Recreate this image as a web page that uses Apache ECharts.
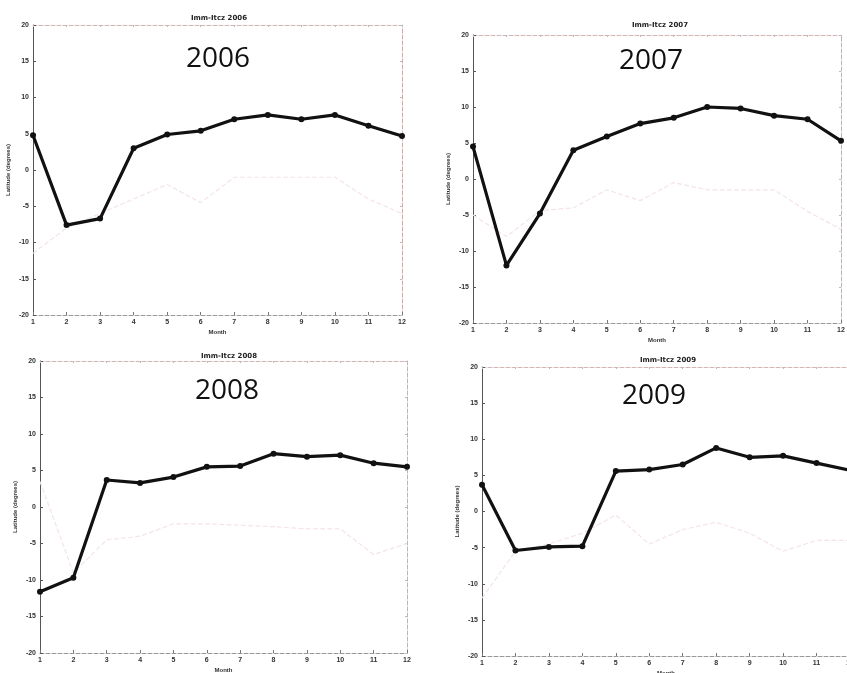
<!DOCTYPE html>
<html>
<head>
<meta charset="utf-8">
<script src="https://cdn.jsdelivr.net/npm/echarts@6/dist/echarts.min.js"></script>
<style>
  html, body { margin: 0; padding: 0; background: #fff; }
  #chart { width: 847px; height: 673px; }
</style>
</head>
<body>
<div id="chart"></div>
<script>
const months = ['1', '2', '3', '4', '5', '6', '7', '8', '9', '10', '11', '12']
const years = ['2006', '2007', '2008', '2009']
const smallTitles = ['Imm-Itcz 2006', 'Imm-Itcz 2007', 'Imm-Itcz 2008', 'Imm-Itcz 2009']

// bold black line, latitude in degrees
const lat2006 = [4.8, -7.6, -6.7, 3.0, 4.9, 5.4, 7.0, 7.6, 7.0, 7.6, 6.1, 4.7]
const lat2007 = [4.5, -12.0, -4.8, 4.0, 5.9, 7.7, 8.5, 10.0, 9.8, 8.8, 8.3, 5.3]
const lat2008 = [-11.6, -9.7, 3.7, 3.3, 4.1, 5.5, 5.6, 7.3, 6.9, 7.1, 6.0, 5.5]
const lat2009 = [3.7, -5.4, -4.9, -4.8, 5.6, 5.8, 6.5, 8.8, 7.5, 7.7, 6.7, 5.7]

// the faint lines that show through the scan
const faint2006 = [-11.5, -8, -6, -4, -2, -4.5, -1, -1, -1, -1, -4, -6]
const faint2007 = [-5, -8, -4.4, -4, -1.5, -3, -0.5, -1.5, -1.5, -1.5, -4.5, -7]
const faint2008 = [3.5, -9, -4.5, -4, -2.3, -2.3, -2.5, -2.7, -3, -3, -6.5, -5]
const faint2009 = [-12, -5.5, -4.5, -3, -0.5, -4.5, -2.5, -1.5, -3, -5.5, -4, -4]

const yTicks = { min: -20, max: 20, interval: 5 }

const mainData = [lat2006, lat2007, lat2008, lat2009]
const faintData = [faint2006, faint2007, faint2008, faint2009]

const grids = [
  { left: 33, right: 445, top: 25, bottom: 358 },
  { left: 473, right: 6, top: 35, bottom: 350 },
  { left: 40, right: 440, top: 361, bottom: 20 },
  { left: 482, right: -3, top: 367, bottom: 17 }
]

// big year labels and the tiny plot titles
const bigLabels = [
  { x: 213, y: 40 }, { x: 646, y: 42 }, { x: 222, y: 372 }, { x: 649, y: 377 }
]
const smallPos = [
  { x: 214, y: 10 }, { x: 655, y: 17 }, { x: 224, y: 348 }, { x: 663, y: 352 }
]

const chart = echarts.init(document.getElementById('chart'))

const titles = []
years.forEach((y, i) => {
  titles.push({
    text: smallTitles[i],
    left: smallPos[i].x, top: smallPos[i].y,
    textAlign: 'center',
    textStyle: { fontSize: 7, fontWeight: 'bold', color: '#222', fontFamily: 'DejaVu Sans' }
  })
  titles.push({
    text: y,
    left: bigLabels[i].x, top: bigLabels[i].y,
    textAlign: 'center',
    textStyle: { fontSize: 28, fontWeight: 'normal', color: '#111', fontFamily: 'Open Sans' }
  })
})

const axisLabel = { fontSize: 7, color: '#333', fontWeight: 'bold', margin: 4 }

chart.setOption({
  backgroundColor: '#fff',
  animation: false,
  title: titles,
  grid: grids.map((g) => ({ ...g, show: false, containLabel: false, outerBoundsMode: 'none' })),
  xAxis: grids.map((g, i) => ({
    gridIndex: i,
    type: 'category',
    data: months,
    boundaryGap: false,
    name: 'Month',
    nameLocation: 'middle',
    nameGap: 14,
    nameTextStyle: { fontSize: 6, fontWeight: 'bold', color: '#333' },
    axisLine: { onZero: false, lineStyle: { color: '#999', type: 'dashed', width: 1 } },
    axisTick: { show: true, inside: true, length: 3, lineStyle: { color: '#777' } },
    axisLabel,
    splitLine: { show: false }
  })).concat(grids.map((g, i) => ({
    gridIndex: i,
    type: 'category',
    data: months,
    boundaryGap: false,
    position: 'top',
    axisLine: { onZero: false, lineStyle: { color: '#d4b4b4', type: 'dashed', width: 1 } },
    axisTick: { show: true, inside: true, length: 2, lineStyle: { color: '#bbb' } },
    axisLabel: { show: false }
  }))),
  yAxis: grids.map((g, i) => ({
    gridIndex: i,
    type: 'value',
    ...yTicks,
    name: 'Latitude (degrees)',
    nameLocation: 'middle',
    nameGap: 22,
    nameTextStyle: { fontSize: 6, fontWeight: 'bold', color: '#333' },
    axisLine: { show: true, onZero: false, lineStyle: { color: '#555', width: 1 } },
    axisTick: { show: true, inside: true, length: 3, lineStyle: { color: '#555' } },
    axisLabel,
    splitLine: { show: false }
  })).concat(grids.map((g, i) => ({
    gridIndex: i,
    type: 'value',
    ...yTicks,
    position: 'right',
    axisLine: { show: true, onZero: false, lineStyle: { color: '#c9b0b0', type: 'dashed', width: 1 } },
    axisTick: { show: true, inside: true, length: 2, lineStyle: { color: '#bbb' } },
    axisLabel: { show: false },
    splitLine: { show: false }
  }))),
  series: mainData.map((d, i) => ({
    name: years[i] + ' faint',
    type: 'line',
    xAxisIndex: i,
    yAxisIndex: i,
    data: faintData[i],
    symbol: 'none',
    z: 1,
    lineStyle: { color: '#f5e4e4', width: 1.2, type: 'dashed' }
  })).concat(mainData.map((d, i) => ({
    name: years[i],
    type: 'line',
    xAxisIndex: i,
    yAxisIndex: i,
    data: d,
    symbol: 'circle',
    symbolSize: 6,
    z: 3,
    lineStyle: { color: '#111', width: 3.2 },
    itemStyle: { color: '#111' }
  })))
})
</script>
</body>
</html>
